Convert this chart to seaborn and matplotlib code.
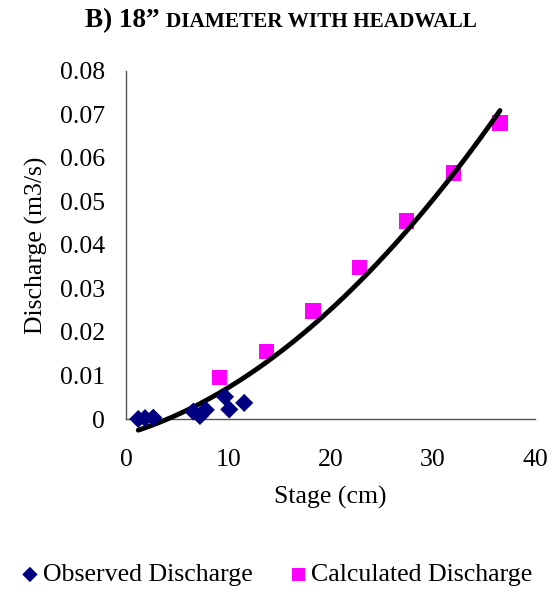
import numpy as np
import pandas as pd
import matplotlib
matplotlib.use("Agg")
import matplotlib.pyplot as plt
import seaborn as sns

obs_stage = [1.2, 1.86, 2.67, 6.58, 7.23, 7.8, 9.68, 10.1, 11.56]
obs_q = [0.0, 0.0002, 0.0003, 0.0017, 0.0007, 0.0021, 0.0051, 0.0022, 0.0037]
calc_stage = [9.14, 13.72, 18.29, 22.86, 27.43, 32.0, 36.58]
calc_q = [0.0095, 0.0155, 0.0248, 0.0348, 0.0455, 0.0565, 0.0680]
x_ticks = [0, 10, 20, 30, 40]
y_ticks = [0, 0.01, 0.02, 0.03, 0.04, 0.05, 0.06, 0.07, 0.08]

sns.set_theme(style="white")
plt.rcParams['font.family'] = ['Liberation Serif', 'DejaVu Serif']
plt.rcParams['text.color'] = 'black'
plt.rcParams['axes.labelcolor'] = 'black'

fig = plt.figure(figsize=(5.57, 6.02), dpi=100)
ax = fig.add_axes([126/557, 1-419/602, (535-126)/557, (419-70.7)/602])

all_df = pd.DataFrame({"stage": obs_stage + calc_stage, "q": obs_q + calc_q})
sns.regplot(data=all_df, x="stage", y="q", order=2, scatter=False, ci=None,
            ax=ax, line_kws=dict(color="black", lw=3.5, clip_on=False, zorder=3))

sns.scatterplot(x=obs_stage, y=obs_q, ax=ax, marker="D", color="#000080", s=85,
                edgecolor="none", label="Observed Discharge", clip_on=False, zorder=4)
sns.scatterplot(x=calc_stage, y=calc_q, ax=ax, marker="s", color="#FF00FF", s=120,
                edgecolor="none", label="Calculated Discharge", clip_on=False, zorder=2)

ax.set_xlim(0, 40)
ax.set_ylim(0, 0.08)
ax.set_xticks(x_ticks)
ax.set_yticks(y_ticks)
ax.set_xticklabels([str(v) for v in x_ticks])
ax.set_yticklabels(["0"] + ["%.2f" % v for v in y_ticks[1:]])
for s in ["top", "right"]:
    ax.spines[s].set_visible(False)
for s in ["left", "bottom"]:
    ax.spines[s].set_color("#555555")
    ax.spines[s].set_linewidth(1.0)
ax.tick_params(axis="both", direction="inout", length=11, width=1, color="#333333",
               labelsize=18.5, labelcolor="black")
ax.tick_params(axis="y", pad=9.6)
ax.tick_params(axis="x", pad=15.8)
ax.set_xlabel("Stage (cm)", fontsize=18.5, labelpad=11, color="black")
ax.set_ylabel("Discharge (m3/s)", fontsize=18.5, labelpad=8.6, color="black")

leg = ax.legend(loc="center", bbox_to_anchor=(0.364, -0.447), ncol=2, frameon=False,
                fontsize=18.6, handlelength=1.0, handletextpad=0.0, columnspacing=1.28,
                markerscale=0.85)
for t in leg.get_texts():
    t.set_color("black")

fig.text(160/557, 0.966, "B) 18\u201d", fontsize=19.5, fontweight="bold", ha="right", va="center")
fig.text(166/557, 0.964, "DIAMETER WITH HEADWALL", fontsize=15.3, fontweight="bold", ha="left", va="center")

fig.savefig("out.png", dpi=100)
